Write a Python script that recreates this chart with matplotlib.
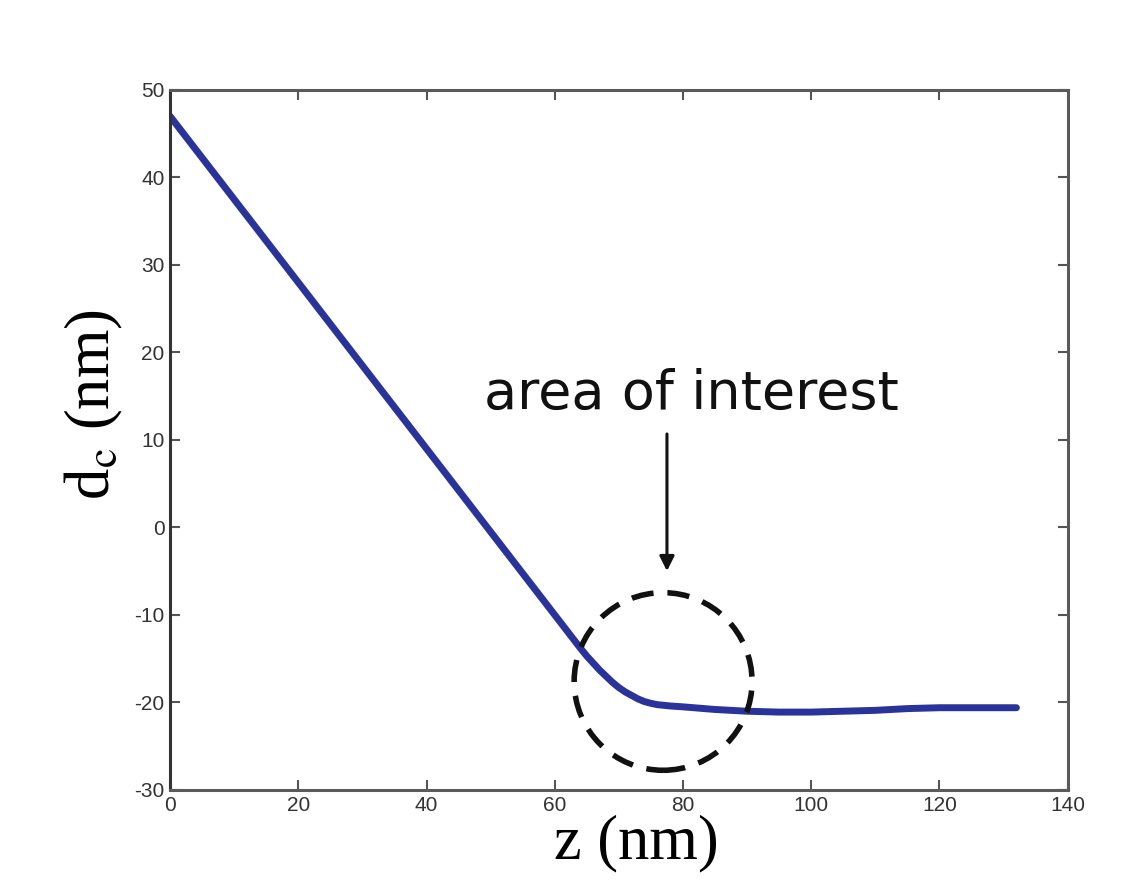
import matplotlib
matplotlib.use('Agg')
import matplotlib.pyplot as plt
from matplotlib.patches import Ellipse

# curve
z_nm = [0, 10, 20, 30, 40, 50, 60, 64, 65, 66, 67, 68, 69, 70, 71, 72, 73, 74,
        75, 76, 78, 80, 85, 90, 95, 100, 105, 110, 115, 120, 125, 132]
dc_nm = [47, 37.5, 28, 18.5, 9, -0.5, -10, -13.8, -14.7, -15.5, -16.3, -17.0,
         -17.7, -18.3, -18.8, -19.2, -19.6, -19.9, -20.1, -20.25, -20.4, -20.5,
         -20.8, -21.0, -21.1, -21.1, -21.0, -20.9, -20.7, -20.6, -20.6, -20.6]

xticks = [0, 20, 40, 60, 80, 100, 120, 140]
yticks = [-30, -20, -10, 0, 10, 20, 30, 40, 50]

plt.rcParams['mathtext.fontset'] = 'stix'
plt.rcParams['axes.unicode_minus'] = False

fig = plt.figure(figsize=(11.45, 8.8), dpi=100, facecolor='white')
ax = fig.add_axes([0.1485, 0.1023, 0.784, 0.7955])

ax.plot(z_nm, dc_nm, color='#2a3399', linewidth=5, solid_capstyle='round',
        solid_joinstyle='round')

ax.set_xlim(0, 140)
ax.set_ylim(-30, 50)
ax.set_xticks(xticks)
ax.set_yticks(yticks)
ax.tick_params(direction='in', length=7, width=1.5, top=True, right=True,
               colors='#555555', labelcolor='#333333', labelsize=15, pad=4)
for lab in ax.get_xticklabels() + ax.get_yticklabels():
    lab.set_family(['Liberation Sans', 'DejaVu Sans'])
for s in ax.spines.values():
    s.set_color('#5a5a5a')
    s.set_linewidth(2.2)
ax.spines['left'].set_color('#333333')

# circle round the bend
ax.add_patch(Ellipse((76.9, -17.6), 27.75, 20.3, fill=False, edgecolor='#111111',
                     linewidth=4, linestyle=(0, (4, 2.5)), zorder=3))

# label and arrow
ax.annotate('', xy=(77.5, -5.3), xytext=(77.5, 11.0),
            arrowprops=dict(arrowstyle='-|>', color='#111111', lw=2.2,
                            mutation_scale=22))
ax.text(81.3, 15.3, 'area of interest', ha='center', va='center', fontsize=39,
        family=['DejaVu Sans'], color='#111111')

ax.set_xlabel('z (nm)', fontsize=45, family=['Liberation Serif'])
ax.set_ylabel(r'd$_{\mathrm{c}}$ (nm)', fontsize=45, family=['Liberation Serif'])
ax.xaxis.set_label_coords(0.52, -0.035, transform=ax.transAxes)
ax.xaxis.label.set_va('top')
ax.yaxis.set_label_coords(-0.05, 0.55)

fig.savefig('out.png', dpi=100, facecolor=fig.get_facecolor())
